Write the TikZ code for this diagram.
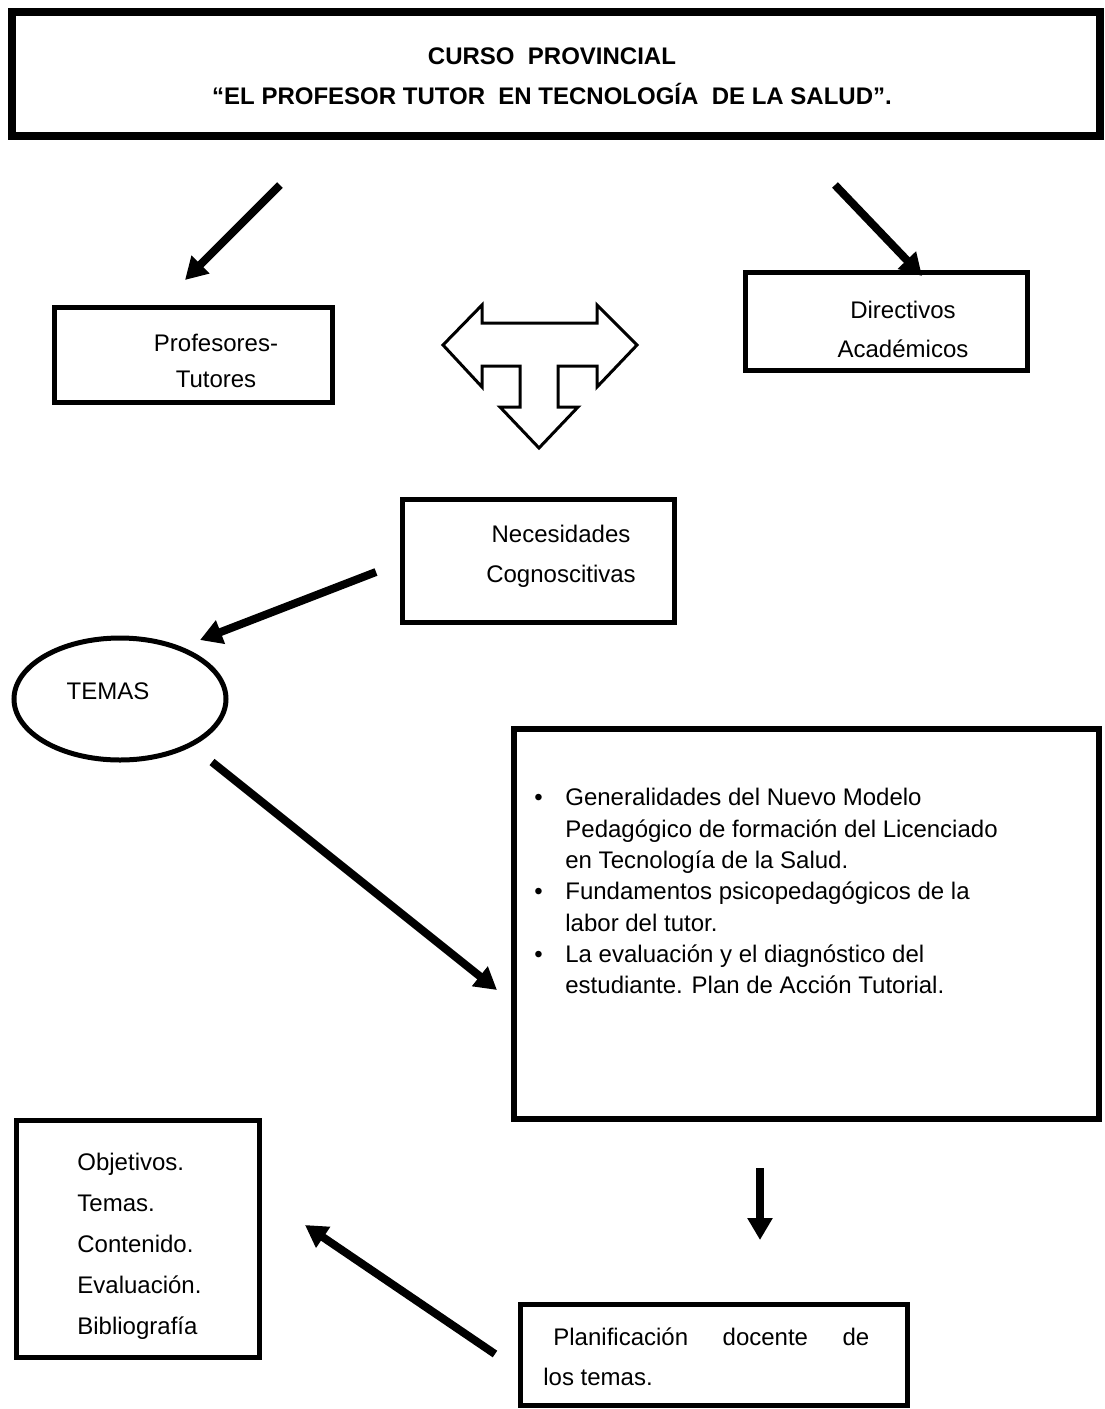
\documentclass[tikz,border=0pt]{standalone}
\usepackage{fontspec}
\setmainfont{Liberation Sans}
\usetikzlibrary{arrows.meta,shapes.geometric}
\newcommand{\tam}[1]{\fontsize{12}{#1}\selectfont}
\begin{document}
\begin{tikzpicture}[x=0.5pt,y=-0.5pt,
  caja/.style={draw,line width=2.5pt,inner sep=0pt,anchor=north west},
  texto/.style={inner sep=0pt,align=center},
  flecha/.style={line width=4pt,-{Triangle[length=11pt,width=12pt]}}]
%\draw[step=50,gray,very thin] (0,0) grid (1104,1409);
\useasboundingbox (0,0) rectangle (1104,1409);

% titulo
\node[caja,line width=4pt,minimum width=544pt,minimum height=62pt] (titulo) at (8,8) {};
\node[texto,font=\bfseries\tam{20pt}] (titulotxt) at (552,76) {CURSO\ \ PROVINCIAL\\``EL PROFESOR TUTOR\ \ EN TECNOLOGÍA\ \ DE LA SALUD''.};

\coordinate (a1) at (280,185);
\coordinate (a2) at (185,280);
\coordinate (b1) at (835,185);
\coordinate (b2) at (922,276);
\draw[flecha] (a1) -- (a2);
\draw[flecha] (b1) -- (b2);

\node[caja,minimum width=139pt,minimum height=47.5pt] (prof) at (52,305) {};
\node[texto,font=\tam{18pt}] (proftxt) at (216,361) {Profesores-\\Tutores};
\node[caja,minimum width=141pt,minimum height=49pt] (dir) at (743,270) {};
\node[texto,font=\tam{19.5pt}] (dirtxt) at (903,329) {Directivos\\Académicos};

% flecha triple
\draw[line width=1.5pt] (443,345) -- (482,305) -- (482,323) -- (597,323) -- (597,305)
  -- (637,345) -- (597,387) -- (597,366) -- (558,366) -- (558,407) -- (578,407)
  -- (539,448) -- (500,407) -- (520,407) -- (520,366) -- (482,366) -- (482,387) -- cycle;

\node[caja,minimum width=136pt,minimum height=61.5pt] (nec) at (400,497) {};
\node[texto,font=\tam{20pt}] (nectxt) at (561,556) {Necesidades\\Cognoscitivas};

\coordinate (c1) at (376,572);
\coordinate (c2) at (200,640);
\draw[flecha] (c1) -- (c2);

\node[draw,ellipse,line width=2.5pt,minimum width=106pt,minimum height=61pt,inner sep=0pt] (temas) at (120,699) {};
\node[texto,font=\tam{15pt}] (temastxt) at (108,691) {TEMAS};

\coordinate (d1) at (212,762);
\coordinate (d2) at (497,990);
\draw[flecha] (d1) -- (d2);

% recuadro de temas
\node[caja,line width=3pt,minimum width=292.5pt,minimum height=195pt] (lista) at (511,726) {};
\node[inner sep=0pt,anchor=north west,align=left,font=\tam{15.65pt}] (listatxt) at (534,788)
 {\makebox[15.5pt][l]{\textbullet}Generalidades del Nuevo Modelo\\
  \hspace*{15.5pt}Pedagógico de formación del Licenciado\\
  \hspace*{15.5pt}en Tecnología de la Salud.\\
  \makebox[15.5pt][l]{\textbullet}Fundamentos psicopedagógicos de la\\
  \hspace*{15.5pt}labor del tutor.\\
  \makebox[15.5pt][l]{\textbullet}La evaluación y el diagnóstico del\\
  \hspace*{15.5pt}estudiante. Plan de Acción Tutorial.};

\coordinate (e1) at (760,1168);
\coordinate (e2) at (760,1240);
\draw[flecha] (e1) -- (e2);

\node[caja,minimum width=121.5pt,minimum height=118.5pt] (obj) at (14,1118) {};
\node[inner sep=0pt,anchor=north west,align=left,font=\tam{20.5pt}] (objtxt) at (77,1153)
 {Objetivos.\\Temas.\\Contenido.\\Evaluación.\\Bibliografía};

\node[caja,minimum width=193.5pt,minimum height=50.5pt] (plan) at (518,1302) {};
\node[inner sep=0pt,anchor=north west,align=left,font=\tam{20pt}] (plantxt) at (543,1327)
 {\hspace*{5pt}\makebox[158pt][s]{Planificación docente de}\\los temas.};

\coordinate (f1) at (495,1354);
\coordinate (f2) at (305,1225);
\draw[flecha] (f1) -- (f2);

\end{tikzpicture}
\end{document}
